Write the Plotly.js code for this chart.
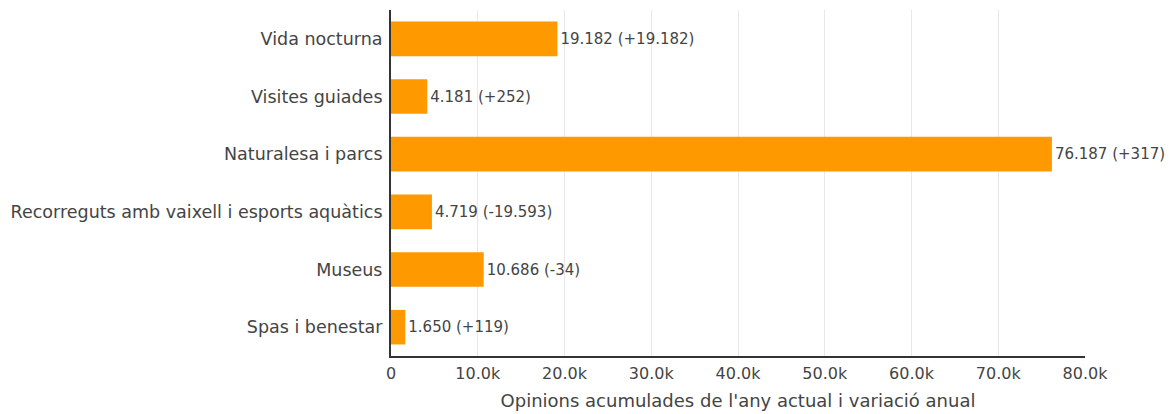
<!DOCTYPE html>
<html>
<head>
<meta charset="utf-8">
<script src="https://cdn.plot.ly/plotly-3.0.1.min.js"></script>
<style>html,body{margin:0;padding:0;background:#fff;}#chart{width:1175px;height:414px;}</style>
</head>
<body>
<div id="chart"></div>
<script>
const categories = ["Vida nocturna", "Visites guiades", "Naturalesa i parcs", "Recorreguts amb vaixell i esports aquàtics", "Museus", "Spas i benestar"];
const values = [19182, 4181, 76187, 4719, 10686, 1650];
const variations = ["+19.182", "+252", "+317", "-19.593", "-34", "+119"];
const tickValues = [0, 10000, 20000, 30000, 40000, 50000, 60000, 70000, 80000];
const tickLabels = ["0", "10.0k", "20.0k", "30.0k", "40.0k", "50.0k", "60.0k", "70.0k", "80.0k"];

function fmt(n) { return n.toString().replace(/\B(?=(\d{3})+(?!\d))/g, "."); }
const labels = values.map((v, i) => fmt(v) + " (" + variations[i] + ")");

const trace = {
  type: "bar",
  orientation: "h",
  x: values,
  y: categories,
  text: labels,
  textposition: "outside",
  cliponaxis: false,
  textfont: {family: "DejaVu Sans", size: 15, color: "#444"},
  marker: {color: "#FF9900"},
  width: 0.6,
  hoverinfo: "none"
};

const layout = {
  width: 1175, height: 414,
  margin: {l: 391, r: 90, t: 10, b: 58},
  paper_bgcolor: "#fff", plot_bgcolor: "#fff",
  showlegend: false,
  font: {family: "DejaVu Sans", color: "#444"},
  xaxis: {
    range: [0, 80000],
    tickvals: tickValues, ticktext: tickLabels,
    tickfont: {family: "DejaVu Sans", size: 16, color: "#444"},
    ticklabelstandoff: 2,
    showgrid: true, gridcolor: "#e8e8e8",
    showline: true, linecolor: "#333", linewidth: 2,
    zeroline: false, ticks: "",
    title: {text: "Opinions acumulades de l'any actual i variació anual", font: {family: "DejaVu Sans", size: 18, color: "#444"}, standoff: 12}
  },
  yaxis: {
    autorange: "reversed",
    tickfont: {family: "DejaVu Sans", size: 17.5, color: "#444"},
    ticklabelstandoff: 3,
    showline: true, linecolor: "#333", linewidth: 2,
    showgrid: false, ticks: "", ticklen: 0
  },
  bargap: 0.4
};

Plotly.newPlot("chart", [trace], layout, {displayModeBar: false, staticPlot: true});
</script>
</body>
</html>
